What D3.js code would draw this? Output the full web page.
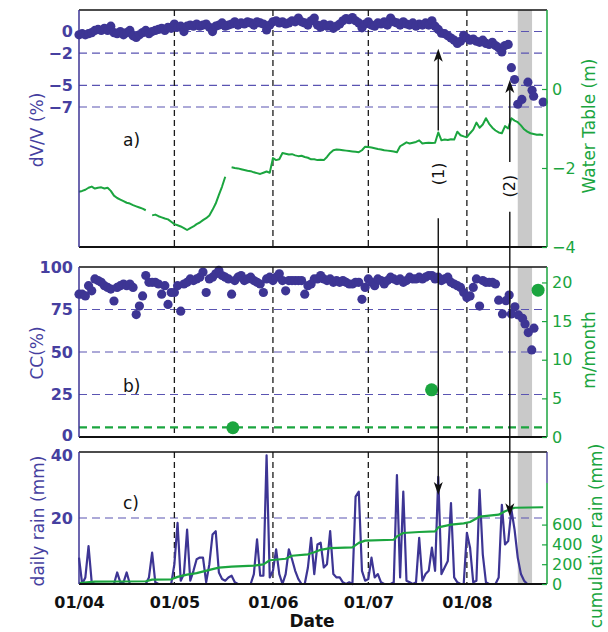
<!DOCTYPE html>
<html>
<head>
<meta charset="utf-8">
<script src="https://cdn.jsdelivr.net/npm/d3@7"></script>
<style>
  body { margin: 0; background: #fff; }
  svg { display: block; }
  text { font-family: "DejaVu Sans", sans-serif; }
</style>
</head>
<body>
<svg id="chart" width="608" height="632"></svg>
<script>
// ---- time frame (days counted from the season start) ----
const seasonStart = "2004-04-01T00:00:00Z";
const seasonEndDay = 147.2;
const monthTickDays = [0, 30, 61, 91, 122];
const monthLabels = ["01/04", "01/05", "01/06", "01/07", "01/08"];
const stormWindowDays = [138, 142.5];

// ---- a) velocity change dV/V (%) : daily values from day 0 ----
const dvvDaily = [
  -0.3, -0.2, -0.3, -0.2, -0.1, 0.1, 0.2, 0.1, 0.3, 0.1,
  0.5, -0.1, -0.2, 0.0, -0.3, -0.1, 0.1, -0.4, -0.55, -0.3,
  -0.1, 0.1, -0.2, 0.0, 0.1, 0.2, 0.3, 0.1, 0.4, 0.3,
  0.7, 0.4, 0.5, 0.0, 0.5, 0.6, 0.5, 0.7, 0.5, 0.6,
  0.7, 0.4, 0.0, 0.5, 0.6, 0.8, 0.5, 0.6, 0.7, 0.9,
  0.6, 0.8, 0.7, 0.9, 0.8, 0.6, 0.9, 0.8, 0.7, 0.15,
  0.6, 0.9, 1.0, 0.8, 0.9, 0.7, 0.8, 1.0, 0.9, 1.25,
  0.9, 0.8, 0.6, 1.0, 1.25, 0.6, 0.4, 0.7, 0.5, 0.6,
  0.3, 0.5, 0.7, 1.0, 1.2, 1.1, 1.3, 1.0, 0.8, 0.35,
  0.7, 0.9, 0.6, 0.5, 0.8, 0.7, 0.9, 0.6, 1.25, 0.9,
  0.8, 0.6, 0.9, 0.7, 0.6, 0.8, 0.5, 0.7, 0.6, 0.8,
  0.6, 1.0, 0.5, 0.2, -0.15, -0.2, -0.4, -0.6, -0.8, -1.1,
  -0.9, -0.35, -0.6, -0.8, -0.7, -0.9, -1.0, -0.8, -1.1, -1.2,
  -1.0, -1.3, -1.5, -1.9, -1.3, -1.2
];
const dvvLateDays = [136, 137, 138, 139.3, 141.2, 142.5, 143, 146];
const dvvLateValues = [-3.35, -4.45, -6.75, -6.3, -4.7, -5.45, -6.0, -6.55];
const dvvTicks = [0, -2, -5, -7];

// ---- a) water table (m) : daily values from day 0, null = no record ----
const waterTable = [
  -2.60, -2.58, -2.55, -2.50, -2.47, -2.52, -2.50, -2.49, -2.52, -2.50,
  -2.58, -2.70, -2.76, -2.80, -2.84, -2.88, -2.90, -2.94, -2.97, -3.00,
  -3.03, -3.07, null, -3.20, -3.18, -3.22, -3.25, -3.28, -3.30, -3.36,
  -3.42, -3.45, -3.48, -3.52, -3.57, -3.52, -3.48, -3.42, -3.38, -3.32,
  -3.27, -3.20, -3.06, -2.90, -2.68, -2.47, -2.22, null, -1.98, -2.00,
  -2.01, -2.03, -2.05, -2.07, -2.08, -2.11, -2.13, -2.15, -2.12, -2.09,
  -2.12, -1.75, -1.80, -1.78, -1.62, -1.64, -1.66, -1.65, -1.68, -1.70,
  -1.69, -1.72, -1.74, -1.78, -1.78, -1.80, -1.79, -1.80, -1.72, -1.62,
  -1.55, -1.53, -1.54, -1.55, -1.56, -1.57, -1.58, -1.59, -1.60, -1.55,
  -1.46, -1.47, -1.48, -1.50, -1.52, -1.53, -1.55, -1.56, -1.57, -1.58,
  -1.60, -1.45, -1.40, -1.35, -1.38, -1.36, -1.34, -1.30, -1.38, -1.37,
  -1.36, -1.37, -1.36, -1.10, -1.30, -1.28, -1.29, -1.27, -1.28, -1.08,
  -1.17, -1.20, -1.22, -1.12, -1.03, -0.85, -0.98, -0.90, -0.74, -0.88,
  -0.98, -1.05, -1.10, -1.12, -0.94, -1.00, -0.74, -0.80, -0.84, -0.92,
  -1.02, -1.08, -1.12, -1.14, -1.16, -1.15, -1.17
];
const wtTicks = [0, -2, -4];

// ---- b) correlation coefficient CC (%) : daily values from day 0 ----
const ccDaily = [
  84, 84, 83, 89, 86, 93, 92, 91, 89, 88,
  87, 80, 88, 89, 90, 89, 90, 88, 72, 77,
  83, 95, 91, 91, 91, 90, 84, 89, 78, 85,
  85, 89, 74, 90, 91, 93, 92, 93, 94, 97,
  85, 93, 94, 96, 98, 95, 94, 93, 84, 92,
  94, 95, 92, 93, 94, 92, 91, 90, 85, 93,
  94, 92, 94, 96, 92, 86, 92, 92, 92, 92,
  92, 84, 89, 90, 93, 93, 95, 93, 92, 93,
  91, 92, 91, 92, 91, 90, 90, 91, 91, 81,
  88, 93, 91, 89, 93, 92, 90, 92, 94, 93,
  92, 93, 91, 92, 94, 93, 93, 94, 93, 94,
  95, 95, 93, 94, 92, 93, 94, 91, 90, 89,
  88, 85, 82, 83, 88, 93, 77, 92, 91, 91,
  91, 90
];
const ccLateDays = [132, 133.2, 134.3, 135.3, 136, 137.1, 138.2, 139.5, 140.3, 141.3, 142.4, 143.1];
const ccLateValues = [80.5, 72.4, 80.2, 83.5, 72.4, 76.6, 71.8, 69.8, 66.5, 61.4, 51.2, 64];
const ccTicks = [0, 25, 50, 75, 100];
const ccGrid = [25, 50, 75];

// ---- b) displacement rate (m/month) ----
const flowDays = [48.4, 110.9, 144.4];
const flowValues = [1.2, 6.1, 19.0];
const flowReference = 1.25;
const flowTicks = [0, 5, 10, 15, 20];

// ---- c) daily rain (mm) from day 0 and cumulative rain (mm) ----
const rainDaily = [
  8, 0, 2, 11.5, 0.5, 0, 0, 0, 0, 0,
  0, 0, 3.5, 0.5, 0.5, 3.5, 0, 0, 0, 0,
  0, 0, 2, 9.5, 0.5, 0, 0, 0, 0, 0,
  6, 18.5, 1, 3, 16.5, 1, 4, 7.5, 8, 8,
  0.5, 6, 15, 16, 3.5, 1.5, 1, 2, 2.5, 0.5,
  0, 0, 0, 0, 0, 3, 13.5, 2.5, 2.5, 39,
  2, 4, 10.5, 3, 0, 3, 10.5, 7.5, 4, 1.5,
  0, 0, 5, 14, 3, 12, 12.5, 5, 6, 16,
  3, 2, 2, 0.5, 0, 0.5, 0, 26.5, 28, 4,
  1, 1.5, 8, 2, 3, 0.5, 0, 0, 0, 0.5,
  33, 2, 28, 1, 0.5, 0, 0.5, 14, 1, 3,
  4, 11, 4, 32.5, 3, 5, 7, 24.5, 2, 0.5,
  0, 0, 15.5, 11, 0.5, 1, 28.5, 9, 0.5, 0,
  0, 0, 2, 24, 12, 13, 22.5, 16.5, 8, 3,
  1, 0, 0, 0, 0, 0, 0
];
const cumRainDays = [0, 5, 21, 23, 29, 31, 34, 37, 42, 44, 48, 55, 58, 60, 65, 67, 72, 74, 76, 79,
  86, 88, 90, 99, 100, 102, 107, 112, 113, 117, 121, 123, 126, 132, 134, 137, 146];
const cumRainValues = [8, 25, 28, 44, 47, 72, 95, 110, 150, 165, 175, 185, 198, 240, 255, 285, 300, 320, 345, 362,
  370, 415, 438, 447, 481, 515, 525, 531, 572, 600, 612, 626, 680, 700, 735, 770, 775];
const rainTicks = [20, 40];
const cumRainTicks = [0, 200, 400, 600];

// ---- styling ----
const BLUE = "#3d3594";
const LABEL_BLUE = "#463fa0";
const GRID_BLUE = "#5a54b2";
const GREEN = "#1ba53f";
const GRAY = "#c9c9c9";

const svg = d3.select("#chart");
const t0 = d3.isoParse(seasonStart);
const dayDate = n => new Date(t0.getTime() + n * 864e5);

const x = d3.scaleUtc().domain([t0, dayDate(seasonEndDay)]).range([79, 547]);
const X0 = x.range()[0], X1 = x.range()[1];

const panelA = { top: 10, bottom: 247 };
const panelB = { top: 267, bottom: 437 };
const panelC = { top: 452, bottom: 584 };

const yDvv = d3.scaleLinear().domain([-20, 2]).range([panelA.bottom, panelA.top]);
const yWt = d3.scaleLinear().domain([-4, 2]).range([panelA.bottom, panelA.top]);
const yCc = d3.scaleLinear().domain([0, 100]).range([panelB.bottom, panelB.top]);
const yFlow = d3.scaleLinear().domain([0, 22]).range([panelB.bottom, panelB.top]);
const yRain = d3.scaleLinear().domain([0, 40]).range([panelC.bottom, panelC.top]);
const yCum = d3.scaleLinear().domain([0, 1020]).range([panelC.bottom, 483]);

const minus = d => (d < 0 ? "\u2212" + Math.abs(d) : String(d));

// background: storm window, month separators and value grid for one panel
function panelBackground(p, gridScale, gridValues) {
  const g = svg.append("g");
  g.append("rect")
    .attr("x", x(dayDate(stormWindowDays[0])))
    .attr("width", x(dayDate(stormWindowDays[1])) - x(dayDate(stormWindowDays[0])))
    .attr("y", p.top).attr("height", p.bottom - p.top)
    .attr("fill", GRAY);
  g.selectAll("line.h").data(gridValues).join("line")
    .attr("x1", X0).attr("x2", X1)
    .attr("y1", d => gridScale(d)).attr("y2", d => gridScale(d))
    .attr("stroke", GRID_BLUE).attr("stroke-width", 1.1)
    .attr("stroke-dasharray", "8,5");
  g.selectAll("line.v").data(monthTickDays.slice(1)).join("line")
    .attr("x1", d => x(dayDate(d))).attr("x2", d => x(dayDate(d)))
    .attr("y1", p.top).attr("y2", p.bottom)
    .attr("stroke", "#1a1a1a").attr("stroke-width", 1.3)
    .attr("stroke-dasharray", "6,4");
}

function leftAxis(scale, ticks) {
  const g = svg.append("g").attr("transform", `translate(${X0},0)`)
    .call(d3.axisLeft(scale).tickValues(ticks).tickSize(0).tickPadding(6).tickFormat(minus));
  g.select(".domain").remove();
  g.selectAll("text").attr("fill", LABEL_BLUE).attr("font-size", 16).attr("font-weight", "bold")
    .attr("font-family", "DejaVu Sans");
  return g;
}

function rightAxis(scale, ticks) {
  const g = svg.append("g").attr("transform", `translate(${X1},0)`)
    .call(d3.axisRight(scale).tickValues(ticks).tickSize(-5).tickPadding(5).tickFormat(minus));
  g.select(".domain").remove();
  g.selectAll("line").attr("stroke", GREEN).attr("stroke-width", 1.2);
  g.selectAll("text").attr("fill", GREEN).attr("font-size", 16)
    .attr("font-family", "DejaVu Sans");
  return g;
}

function frame(p, rightTop) {
  const g = svg.append("g");
  g.append("line").attr("x1", X0).attr("x2", X1).attr("y1", p.top).attr("y2", p.top)
    .attr("stroke", "#111").attr("stroke-width", 1.6);
  g.append("line").attr("x1", X0).attr("x2", X1).attr("y1", p.bottom).attr("y2", p.bottom)
    .attr("stroke", "#111").attr("stroke-width", 1.8);
  g.append("line").attr("x1", X0).attr("x2", X0).attr("y1", p.top).attr("y2", p.bottom)
    .attr("stroke", BLUE).attr("stroke-width", 1.5);
  if (rightTop > p.top) {
    g.append("line").attr("x1", X1).attr("x2", X1).attr("y1", p.top).attr("y2", rightTop)
      .attr("stroke", BLUE).attr("stroke-width", 1.3);
  }
  g.append("line").attr("x1", X1).attr("x2", X1).attr("y1", rightTop).attr("y2", p.bottom)
    .attr("stroke", GREEN).attr("stroke-width", 1.5);
}

function sideTitle(text, cx, cy, color, size) {
  svg.append("text")
    .attr("transform", `translate(${cx},${cy}) rotate(-90)`)
    .attr("text-anchor", "middle").attr("dy", "0.35em")
    .attr("fill", color).attr("font-size", size)
    .text(text);
}

function panelTag(text, px, baseline) {
  svg.append("text").attr("x", px).attr("y", baseline)
    .attr("font-size", 17).attr("fill", "#111").text(text);
}

// ---------- panel a ----------
panelBackground(panelA, yDvv, dvvTicks);

const wtLine = d3.line()
  .defined(d => d != null)
  .x((d, i) => x(dayDate(i)))
  .y(d => yWt(d));
svg.append("path").datum(waterTable)
  .attr("d", wtLine).attr("fill", "none")
  .attr("stroke", GREEN).attr("stroke-width", 2).attr("stroke-linejoin", "round");

const dvvPoints = dvvDaily.map((v, i) => [i, v])
  .concat(dvvLateDays.map((d, i) => [d, dvvLateValues[i]]));
svg.append("g").selectAll("circle").data(dvvPoints).join("circle")
  .attr("cx", d => x(dayDate(d[0]))).attr("cy", d => yDvv(d[1]))
  .attr("r", 4.6).attr("fill", BLUE);

frame(panelA, panelA.top);
leftAxis(yDvv, dvvTicks);
rightAxis(yWt, wtTicks);

// ---------- panel b ----------
panelBackground(panelB, yCc, ccGrid);

svg.append("line")
  .attr("x1", X0).attr("x2", X1)
  .attr("y1", yFlow(flowReference)).attr("y2", yFlow(flowReference))
  .attr("stroke", GREEN).attr("stroke-width", 2.2).attr("stroke-dasharray", "8,5");

const ccPoints = ccDaily.map((v, i) => [i, v])
  .concat(ccLateDays.map((d, i) => [d, ccLateValues[i]]));
svg.append("g").selectAll("circle").data(ccPoints).join("circle")
  .attr("cx", d => x(dayDate(d[0]))).attr("cy", d => yCc(d[1]))
  .attr("r", 4.6).attr("fill", BLUE);

svg.append("g").selectAll("circle").data(flowDays).join("circle")
  .attr("cx", d => x(dayDate(d))).attr("cy", (d, i) => yFlow(flowValues[i]))
  .attr("r", 6.5).attr("fill", GREEN);

frame(panelB, panelB.top);
const ccAxis = leftAxis(yCc, ccTicks);
// lift the bottom label a little so it clears the rain axis label below
ccAxis.selectAll("text").filter(d => d === 0).attr("dy", "0.2em");
rightAxis(yFlow, flowTicks);

// ---------- panel c ----------
panelBackground(panelC, yRain, [20]);

svg.append("path").datum(rainDaily)
  .attr("d", d3.line().x((d, i) => x(dayDate(i))).y(d => yRain(d)))
  .attr("fill", "none").attr("stroke", BLUE).attr("stroke-width", 2.2)
  .attr("stroke-linejoin", "round");

svg.append("path").datum(cumRainDays.map((d, i) => [d, cumRainValues[i]]))
  .attr("d", d3.line().x(d => x(dayDate(d[0]))).y(d => yCum(d[1])))
  .attr("fill", "none").attr("stroke", GREEN).attr("stroke-width", 2.2)
  .attr("stroke-linejoin", "round");

frame(panelC, yCum.range()[1]);
const rainAxis = leftAxis(yRain, rainTicks);
rainAxis.selectAll("text").filter(d => d === 40).attr("dy", "0.5em");
rightAxis(yCum, cumRainTicks);

// month labels on the shared time axis
const xAxis = svg.append("g").attr("transform", `translate(0,${panelC.bottom})`)
  .call(d3.axisBottom(x).tickValues(monthTickDays.map(dayDate)).tickSize(0)
    .tickFormat((d, i) => monthLabels[i]));
xAxis.select(".domain").remove();
xAxis.selectAll("text").attr("y", 24).attr("dy", 0)
  .attr("font-size", 16).attr("font-weight", "bold").attr("fill", "#111")
  .attr("font-family", "DejaVu Sans");

svg.append("text").attr("x", 312).attr("y", 627).attr("text-anchor", "middle")
  .attr("font-size", 17).attr("font-weight", "bold").attr("fill", "#111").text("Date");

// ---------- axis titles and panel tags ----------
sideTitle("dV/V (%)", 37, 130, LABEL_BLUE, 17);
sideTitle("CC(%)", 37, 353, LABEL_BLUE, 17);
sideTitle("daily rain (mm)", 38, 521, LABEL_BLUE, 17);
sideTitle("Water Table (m)", 589, 126, GREEN, 17);
sideTitle("m/month", 589, 350, GREEN, 17);
sideTitle("cumulative rain (mm)", 596, 536, GREEN, 17);

panelTag("a)", 123, 146);
panelTag("b)", 123, 392);
panelTag("c)", 123, 509);

// ---------- event arrows (1) and (2) ----------
const events = [
  { tag: "(1)", day: 113, tipDvv: -1.6, tailWt: -1.05, tagWt: -2.15, dropWt: -3.27, hitRain: 27 },
  { tag: "(2)", day: 135.5, tipDvv: -4.5, tailWt: -1.85, tagWt: -2.46, dropWt: -3.11, hitRain: 20.5 }
];
const head = (cx, ty, dir) =>
  `M${cx},${ty} L${cx - 4.5},${ty + dir * 13} L${cx},${ty + dir * 9.5} L${cx + 4.5},${ty + dir * 13} Z`;

events.forEach(e => {
  const ex = x(dayDate(e.day));
  const g = svg.append("g");
  const up = yDvv(e.tipDvv);
  g.append("line").attr("x1", ex).attr("x2", ex).attr("y1", yWt(e.tailWt)).attr("y2", up + 6)
    .attr("stroke", "#111").attr("stroke-width", 1.4);
  g.append("path").attr("d", head(ex, up, 1)).attr("fill", "#111");
  g.append("text").attr("transform", `translate(${ex},${yWt(e.tagWt)}) rotate(-90)`)
    .attr("text-anchor", "middle").attr("dy", "0.35em")
    .attr("font-size", 16).attr("fill", "#111").text(e.tag);
  const down = yRain(e.hitRain);
  g.append("line").attr("x1", ex).attr("x2", ex).attr("y1", yWt(e.dropWt)).attr("y2", down - 6)
    .attr("stroke", "#111").attr("stroke-width", 1.4);
  g.append("path").attr("d", head(ex, down, -1)).attr("fill", "#111");
});
</script>
</body>
</html>
